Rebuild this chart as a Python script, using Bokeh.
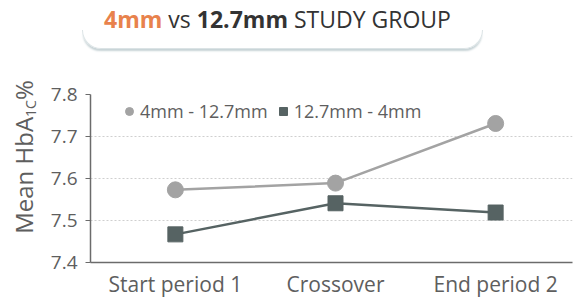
from bokeh.plotting import figure
from bokeh.models import Div, Range1d, Legend, LegendItem, FixedTicker
from bokeh.layouts import column, row
from bokeh.embed import file_html
from bokeh.resources import INLINE

categories = ["Start period 1", "Crossover", "End period 2"]
series_a_name = "4mm - 12.7mm"
series_b_name = "12.7mm - 4mm"
series_a = [7.573, 7.589, 7.731]
series_b = [7.467, 7.541, 7.519]
y_ticks = [7.4, 7.5, 7.6, 7.7, 7.8]

FONT = "Open Sans"
TXT = "#5e5e5e"
C_A = "#a3a3a3"
C_B = "#566363"

title_html = (
    '<div style="position:relative;width:575px;height:58px;">'
    '<div style="position:absolute;left:82px;top:30px;width:401px;height:19px;'
    'border:1.5px solid #dbe3e5;border-top:none;border-radius:0 0 22px 22px;'
    'box-shadow:0 3px 2px -1px #c7d3d6;"></div>'
    '<div style="position:absolute;left:0;top:5px;width:555px;text-align:center;'
    'font-family:\'Open Sans\';font-size:23px;line-height:28px;color:#333;">'
    '<span style="color:#e8824c;font-weight:bold;">4mm</span> vs '
    '<span style="font-weight:bold;">12.7mm</span> STUDY GROUP</div>'
    '</div>'
)
header = Div(text=title_html, width=575, height=58, margin=(0, 0, 0, 0))

ylabel_html = (
    '<div style="position:relative;width:40px;height:243px;">'
    '<div style="position:absolute;left:-76px;top:84px;width:200px;height:30px;'
    'line-height:30px;text-align:center;white-space:nowrap;transform:rotate(-90deg);'
    'font-family:\'Open Sans\';font-size:24px;color:#5e5e5e;">'
    'Mean HbA<span style="font-size:14px;position:relative;top:3px;">1C</span>%'
    '</div></div>'
)
ylabel = Div(text=ylabel_html, width=40, height=243, margin=(0, 0, 0, 0))

xs = list(range(len(categories)))
p = figure(width=535, height=243, output_backend="svg", toolbar_location=None,
           x_range=Range1d(-0.53, 2.48), y_range=Range1d(7.4, 7.8),
           min_border_left=50, min_border_right=3, min_border_top=36,
           min_border_bottom=39)
p.outline_line_color = None
p.background_fill_color = None
p.border_fill_color = None

la = p.line(xs, series_a, line_color=C_A, line_width=2.5)
lb = p.line(xs, series_b, line_color=C_B, line_width=2.5)
sa = p.scatter(xs, series_a, marker="circle", size=16, fill_color=C_A, line_color=C_A)
sb = p.scatter(xs, series_b, marker="square", size=15, fill_color=C_B, line_color=C_B)

p.xaxis.ticker = FixedTicker(ticks=xs)
p.xaxis.major_label_overrides = {i: c for i, c in enumerate(categories)}
p.xaxis.major_tick_line_color = None
p.xaxis.major_tick_in = 0
p.xaxis.major_tick_out = 0
p.xaxis.minor_tick_line_color = None
p.xaxis.axis_line_color = "#6b6b6b"
p.xaxis.axis_line_width = 1.5
p.xaxis.major_label_text_font = FONT
p.xaxis.major_label_text_font_size = "21px"
p.xaxis.major_label_text_color = TXT
p.xaxis.major_label_standoff = 7

p.yaxis.ticker = FixedTicker(ticks=y_ticks)
p.yaxis.formatter.use_scientific = False
p.yaxis.minor_tick_line_color = None
p.yaxis.major_tick_in = 0
p.yaxis.major_tick_out = 5
p.yaxis.major_tick_line_color = "#6b6b6b"
p.yaxis.axis_line_color = "#6b6b6b"
p.yaxis.axis_line_width = 1.5
p.yaxis.major_label_text_font = FONT
p.yaxis.major_label_text_font_size = "19px"
p.yaxis.major_label_text_color = TXT
p.yaxis.major_label_standoff = 8

p.xgrid.grid_line_color = None
p.ygrid.grid_line_color = "#cfcfcf"
p.ygrid.grid_line_dash = "2 2"
p.ygrid.grid_line_width = 1

legend = Legend(items=[LegendItem(label=series_a_name, renderers=[sa]),
                       LegendItem(label=series_b_name, renderers=[sb])],
                orientation="horizontal", location=(29, 139),
                border_line_color=None, background_fill_alpha=0,
                label_text_font=FONT, label_text_font_size="18px",
                label_text_color=TXT, glyph_width=20, glyph_height=20,
                label_standoff=1, spacing=5, padding=0, margin=0)
p.add_layout(legend)

layout = column(header, row(ylabel, p, spacing=0), spacing=0)
open("out.html", "w").write(file_html(layout, INLINE))
